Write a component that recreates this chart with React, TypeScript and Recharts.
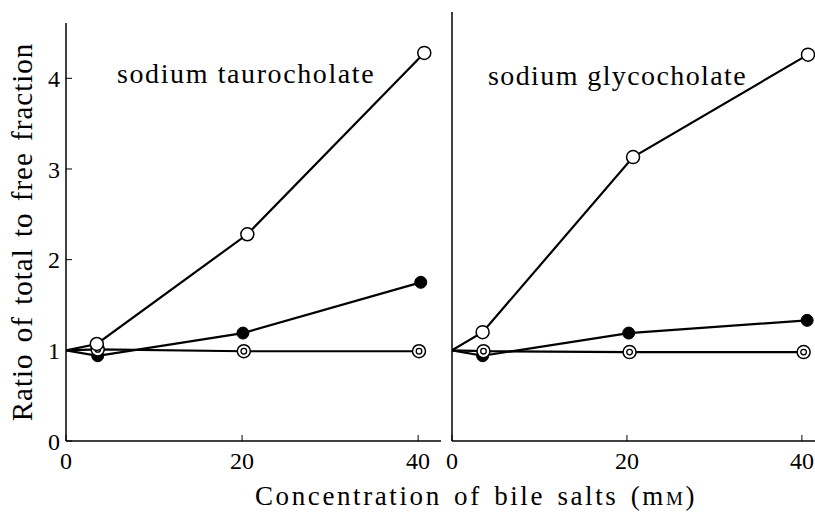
import React from "react";
import { LineChart, Line, XAxis, YAxis } from "recharts";

// sodium taurocholate
const tauroOpenX = [0, 3.5, 20.6, 40.7];
const tauroOpenY = [1, 1.07, 2.28, 4.28];
const tauroFilledX = [0, 3.6, 20.1, 40.3];
const tauroFilledY = [1, 0.94, 1.19, 1.75];
const tauroDoubleX = [0, 3.6, 20.2, 40.1];
const tauroDoubleY = [1, 1.01, 0.99, 0.99];

// sodium glycocholate
const glycoOpenX = [0, 3.5, 20.7, 40.7];
const glycoOpenY = [1, 1.2, 3.13, 4.26];
const glycoFilledX = [0, 3.5, 20.2, 40.6];
const glycoFilledY = [1, 0.94, 1.19, 1.33];
const glycoDoubleX = [0, 3.6, 20.3, 40.2];
const glycoDoubleY = [1, 0.99, 0.98, 0.98];

const yTicks = [0, 1, 2, 3, 4];
const xTicks = [0, 20, 40];

const panelTitles = ["sodium taurocholate", "sodium glycocholate"];
const yTitle = "Ratio of total to free fraction";

const SERIF = "Times New Roman";

const pairs = (xs: number[], ys: number[]) => xs.map((x, i) => ({ x, y: ys[i] }));

const OpenDot = (p: any) =>
  p.index === 0 ? <g key={p.key} /> : (
    <circle key={p.key} cx={p.cx} cy={p.cy} r={6.5} fill="#fff" stroke="#000" strokeWidth={1.5} />
  );

const FilledDot = (p: any) =>
  p.index === 0 ? <g key={p.key} /> : (
    <circle key={p.key} cx={p.cx} cy={p.cy} r={6} fill="#000" stroke="#000" strokeWidth={1} />
  );

const DoubleDot = (p: any) =>
  p.index === 0 ? <g key={p.key} /> : (
    <g key={p.key}>
      <circle cx={p.cx} cy={p.cy} r={6.5} fill="#fff" stroke="#000" strokeWidth={1.5} />
      <circle cx={p.cx} cy={p.cy} r={2.8} fill="#fff" stroke="#000" strokeWidth={1.3} />
    </g>
  );

const tickStyle = { fill: "#000", fontSize: 24, fontFamily: SERIF };

function Panel(props: {
  width: number;
  top: number;
  right: number;
  yWidth: number;
  yMax: number;
  xMax: number;
  showY: boolean;
  series: { x: number[]; y: number[] }[];
}) {
  const { width, top, right, yWidth, yMax, xMax, showY, series } = props;
  const dots = [FilledDot, DoubleDot, OpenDot];
  return (
    <LineChart width={width} height={513} margin={{ top, right, left: 0, bottom: 0 }}>
      <XAxis
        type="number"
        dataKey="x"
        domain={[0, xMax]}
        ticks={xTicks}
        allowDataOverflow
        height={72}
        stroke="#000"
        axisLine={{ stroke: "#000", strokeWidth: 1.5 }}
        tickLine={{ stroke: "#000", strokeWidth: 1 }}
        tickSize={-6}
        tickMargin={17}
        tick={tickStyle}
      />
      <YAxis
        type="number"
        dataKey="y"
        domain={[0, yMax]}
        ticks={yTicks}
        allowDataOverflow
        width={yWidth}
        axisLine={{ stroke: "#000", strokeWidth: 1.5 }}
        tickLine={{ stroke: "#000", strokeWidth: 1 }}
        tickSize={-6}
        tickMargin={12}
        tick={showY ? tickStyle : false}
      />
      {series.map((s, i) => (
        <Line
          key={i}
          data={pairs(s.x, s.y)}
          dataKey="y"
          type="linear"
          stroke="#000"
          strokeWidth={2.2}
          dot={dots[i]}
          activeDot={false}
          isAnimationActive={false}
        />
      ))}
    </LineChart>
  );
}

export default function App() {
  return (
    <div style={{ position: "absolute", left: 0, top: 0, width: 815, height: 513, background: "#fff" }}>
      <svg width={815} height={513} style={{ position: "absolute", left: 0, top: 0 }}>
        <text x={117} y={83} fontSize={28} fontFamily={SERIF} letterSpacing={1.6} fill="#000">
          {panelTitles[0]}
        </text>
        <text x={488} y={85} fontSize={28} fontFamily={SERIF} letterSpacing={1.4} fill="#000">
          {panelTitles[1]}
        </text>
        <text
          transform="translate(32, 232) rotate(-90)"
          textAnchor="middle"
          fontSize={29}
          fontFamily={SERIF}
          letterSpacing={1}
          wordSpacing={3}
          fill="#000"
        >
          {yTitle}
        </text>
        <text x={255} y={505} fontSize={27} fontFamily={SERIF} letterSpacing={2.6} wordSpacing={3} fill="#000">
          Concentration of bile salts (m<tspan fontSize={19}>M</tspan>)
        </text>
      </svg>
      <div style={{ position: "absolute", left: 0, top: 0 }}>
        <Panel
          width={445}
          top={23}
          right={4}
          yWidth={66}
          yMax={4.61}
          xMax={42.6}
          showY
          series={[
            { x: tauroFilledX, y: tauroFilledY },
            { x: tauroDoubleX, y: tauroDoubleY },
            { x: tauroOpenX, y: tauroOpenY },
          ]}
        />
      </div>
      <div style={{ position: "absolute", left: 445, top: 0 }}>
        <Panel
          width={370}
          top={12}
          right={0}
          yWidth={7}
          yMax={4.73}
          xMax={41.5}
          showY={false}
          series={[
            { x: glycoFilledX, y: glycoFilledY },
            { x: glycoDoubleX, y: glycoDoubleY },
            { x: glycoOpenX, y: glycoOpenY },
          ]}
        />
      </div>
    </div>
  );
}
